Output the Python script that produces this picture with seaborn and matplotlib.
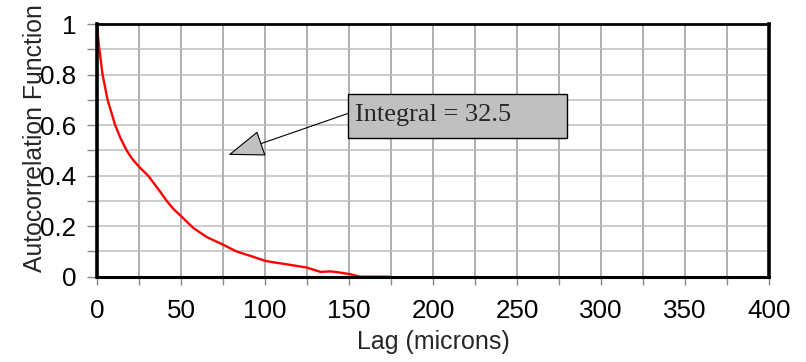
import matplotlib
matplotlib.use("Agg")
import matplotlib.pyplot as plt
import seaborn as sns
import pandas as pd
import numpy as np
from matplotlib.patches import Rectangle

# ---- data ----
lag = [0, 0.6, 1.4, 3.3, 6.3, 10.8, 14, 17.6, 21, 25, 30.4, 33.5, 37.5, 41.5,
       45.5, 50, 57.3, 65.3, 75, 83, 91, 100, 105, 113, 125, 133, 139, 144,
       150.6, 156.5, 165, 174]
acf = [1.0, 0.95, 0.9, 0.8, 0.7, 0.6, 0.548, 0.5, 0.466, 0.435, 0.40, 0.373,
       0.337, 0.30, 0.268, 0.24, 0.193, 0.157, 0.127, 0.10, 0.083, 0.063,
       0.057, 0.049, 0.036, 0.019, 0.021, 0.017, 0.010, 0.0, 0.0, 0.0]
x_ticks = list(range(0, 401, 25))
x_labels = [str(v) if v % 50 == 0 else "" for v in x_ticks]
y_ticks = [round(0.1 * i, 1) for i in range(11)]
y_labels = ["0", "", "0.2", "", "0.4", "", "0.6", "", "0.8", "", "1"]
annot_text = "Integral = 32.5"

df = pd.DataFrame({"lag": lag, "acf": acf})

sns.set_theme(style="white")
plt.rcParams["font.family"] = ["Liberation Sans", "DejaVu Sans"]

fig = plt.figure(figsize=(8.06, 3.62), dpi=100)
ax = fig.add_axes([97 / 806, 1 - 276.7 / 362, 672 / 806, 252.7 / 362])

# grid
for xv in x_ticks:
    ax.axvline(xv, color="#999999", lw=1.1, zorder=0)
for yv in y_ticks:
    ax.axhline(yv, color="#bdbdbd", lw=1.1, zorder=0)

sns.lineplot(data=df, x="lag", y="acf", ax=ax, color="#ff0000", lw=1.7,
             sort=False, estimator=None, zorder=3)

ax.set_xlim(0, 400)
ax.set_ylim(0, 1)
ax.set_xticks(x_ticks)
ax.set_xticklabels(x_labels)
ax.set_yticks(y_ticks)
ax.set_yticklabels(y_labels)
ax.tick_params(axis="both", which="major", labelsize=18.7, colors="#888888",
               labelcolor="black", width=1.0, direction="out")
ax.tick_params(axis="x", length=6, pad=10)
ax.tick_params(axis="y", length=7, pad=8)
ax.tick_params(bottom=True, left=True)

for side, lw in [("left", 2.6), ("bottom", 2.2), ("top", 2.0), ("right", 2.6)]:
    ax.spines[side].set_visible(True)
    ax.spines[side].set_color("black")
    ax.spines[side].set_linewidth(lw)
    ax.spines[side].set_zorder(4)

ax.set_xlabel("Lag (microns)", fontsize=18)
ax.set_ylabel("Autocorrelation Function", fontsize=17.8)
ax.xaxis.set_label_coords(0.5, -0.21)
ax.yaxis.set_label_coords(-0.075, 0.55)

# annotation box
box_x0, box_x1 = 149.4, 279.8
box_y0, box_y1 = 0.549, 0.724
ax.add_patch(Rectangle((box_x0, box_y0), box_x1 - box_x0, box_y1 - box_y0,
                       facecolor="#c0c0c0", edgecolor="black", lw=1.0, zorder=5))
ax.text(153.6, 0.617, annot_text, fontsize=19, family=["Liberation Serif"],
        va="baseline", ha="left", zorder=6)
ax.annotate("", xy=(78.2, 0.482), xytext=(box_x0, 0.646),
            arrowprops=dict(arrowstyle="-|>,head_length=1.18,head_width=0.43",
                            mutation_scale=20, fc="#c0c0c0", ec="black",
                            lw=0.8, shrinkA=0, shrinkB=0),
            zorder=5)

fig.savefig("out.png", dpi=100)
